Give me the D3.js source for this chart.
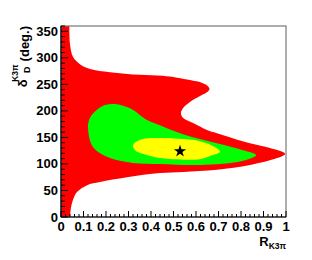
<!DOCTYPE html>
<html>
<head>
<meta charset="utf-8">
<script src="https://cdn.jsdelivr.net/npm/d3@7"></script>
<style>
body { margin: 0; background: #fff; }
text { font-family: "Liberation Sans", Arial, sans-serif; font-weight: bold; }
</style>
</head>
<body>
<div id="canvas"></div>
<script>
// contour chart, R_K3pi vs delta_D

var width = 312;
var height = 260;

// [R, delta] boundary points
var redContour = [[0.037,360],[0.040,326],[0.053,302],[0.084,288],[0.129,279],[0.218,273],[0.351,268],
	[0.453,266],[0.573,258],[0.625,253],[0.652,247],[0.660,241],[0.648,235],[0.610,226],[0.570,216],
	[0.542,205],[0.533,196],[0.542,187],[0.587,177],[0.649,164],[0.693,158],[0.840,139],[0.929,130],
	[0.996,119],[0.960,111],[0.840,98],[0.693,89],[0.542,85],[0.440,83],[0.293,75],[0.173,66],
	[0.116,60],[0.071,47],[0.053,32],[0.044,17],[0.040,0]];
var greenContour = [[0.240,213],[0.307,205],[0.382,183],[0.440,173],[0.542,156],[0.693,139],[0.809,126],
	[0.867,117],[0.809,106],[0.618,98],[0.440,100],[0.320,102],[0.218,111],[0.142,132],[0.120,170],
	[0.129,187],[0.160,202],[0.196,211]];
var yellowContour = [[0.320,136],[0.364,147],[0.440,149],[0.542,147],[0.618,143],[0.684,132],[0.707,123],
	[0.662,115],[0.618,109],[0.440,111],[0.364,119],[0.329,126]];
var bestFit = [0.529,124];

var xTicks = [0,0.1,0.2,0.3,0.4,0.5,0.6,0.7,0.8,0.9,1];
var xTickLabels = ["0","0.1","0.2","0.3","0.4","0.5","0.6","0.7","0.8","0.9","1"];
var yTicks = [0,50,100,150,200,250,300,350];

var pLeft = 61, pRight = 286, pTop = 26, pBottom = 217;

var x = d3.scaleLinear().domain([0,1]).range([pLeft,pRight]);
var y = d3.scaleLinear().domain([0,360]).range([pBottom,pTop]);

var svg = d3.select("#canvas").append("svg")
	.attr("width",width)
	.attr("height",height);

svg.append("defs").append("clipPath").attr("id","clip")
	.append("rect").attr("x",pLeft).attr("y",pTop).attr("width",pRight-pLeft).attr("height",pBottom-pTop);

var plot = svg.append("g").attr("clip-path","url(#clip)");

var openLine = d3.line().x(function(d){return x(d[0]);}).y(function(d){return y(d[1]);})
	.curve(d3.curveCatmullRom.alpha(0.5));
var closedLine = d3.line().x(function(d){return x(d[0]);}).y(function(d){return y(d[1]);})
	.curve(d3.curveCatmullRomClosed.alpha(0.5));

// red band touches the left axis, close it along R=0
plot.append("path")
	.attr("d", openLine(redContour) + "L" + x(-0.01) + "," + y(-5) + "L" + x(-0.01) + "," + y(365) + "Z")
	.style("fill","#ff0000");
plot.append("path").attr("d",closedLine(greenContour)).style("fill","#00ff00");
plot.append("path").attr("d",closedLine(yellowContour)).style("fill","#ffff00");

plot.append("path")
	.attr("d", d3.symbol().type(d3.symbolStar).size(48)())
	.attr("transform","translate(" + x(bestFit[0]) + "," + y(bestFit[1]) + ")")
	.style("fill","#000");

// frame
svg.append("rect").attr("x",pLeft).attr("y",pTop).attr("width",pRight-pLeft).attr("height",pBottom-pTop)
	.style("fill","none").style("stroke","#777").style("stroke-width",1.2);

// axes, ticks pointing inward
var xMinor = d3.range(0,1.0001,0.02);
svg.selectAll(".xminor").data(xMinor).enter().append("line")
	.attr("x1",function(d){return x(d);}).attr("x2",function(d){return x(d);})
	.attr("y1",pBottom).attr("y2",function(d,i){return i%5==0 ? pBottom-6 : pBottom-3;})
	.style("stroke","#000");
var yMinor = d3.range(0,360.001,10);
svg.selectAll(".yminor").data(yMinor).enter().append("line")
	.attr("y1",function(d){return y(d);}).attr("y2",function(d){return y(d);})
	.attr("x1",pLeft).attr("x2",function(d,i){return i%5==0 ? pLeft+7 : pLeft+4;})
	.style("stroke","#000");

svg.append("line").attr("x1",pLeft).attr("x2",pRight).attr("y1",pBottom).attr("y2",pBottom)
	.style("stroke","#000").style("stroke-width",1.2);
svg.append("line").attr("x1",pLeft).attr("x2",pLeft).attr("y1",pTop).attr("y2",pBottom)
	.style("stroke","#000").style("stroke-width",1.2);

svg.selectAll(".xlab").data(xTicks).enter().append("text")
	.attr("x",function(d){return x(d);}).attr("y",pBottom+14)
	.attr("text-anchor","middle").style("font-size","13px")
	.text(function(d,i){return xTickLabels[i];});
svg.selectAll(".ylab").data(yTicks).enter().append("text")
	.attr("x",pLeft-3).attr("y",function(d){return y(d)+4.5;})
	.attr("text-anchor","end").style("font-size","13px")
	.text(function(d){return d;});

// x title
var xt = svg.append("text").attr("x",pRight).attr("y",pBottom+29).attr("text-anchor","end").style("font-size","13px");
xt.append("tspan").text("R");
xt.append("tspan").attr("dy",3).style("font-size","8.5px").text("K3\u03c0");

// y title, rotated
var g = svg.append("g").attr("transform","translate(29," + pTop + ") rotate(-90)");
var deg = g.append("text").attr("x",0).attr("y",0).attr("text-anchor","end").style("font-size","13px").text("(deg.)");
var w = deg.node().getComputedTextLength();
g.append("text").attr("x",-w-3).attr("y",-11).attr("text-anchor","end").style("font-size","8.5px").text("K3\u03c0");
g.append("text").attr("x",-w-5).attr("y",1).attr("text-anchor","end").style("font-size","9px").text("D");
g.append("text").attr("x",-w-18).attr("y",-2).attr("text-anchor","end").style("font-size","13px").text("\u03b4");
</script>
</body>
</html>
